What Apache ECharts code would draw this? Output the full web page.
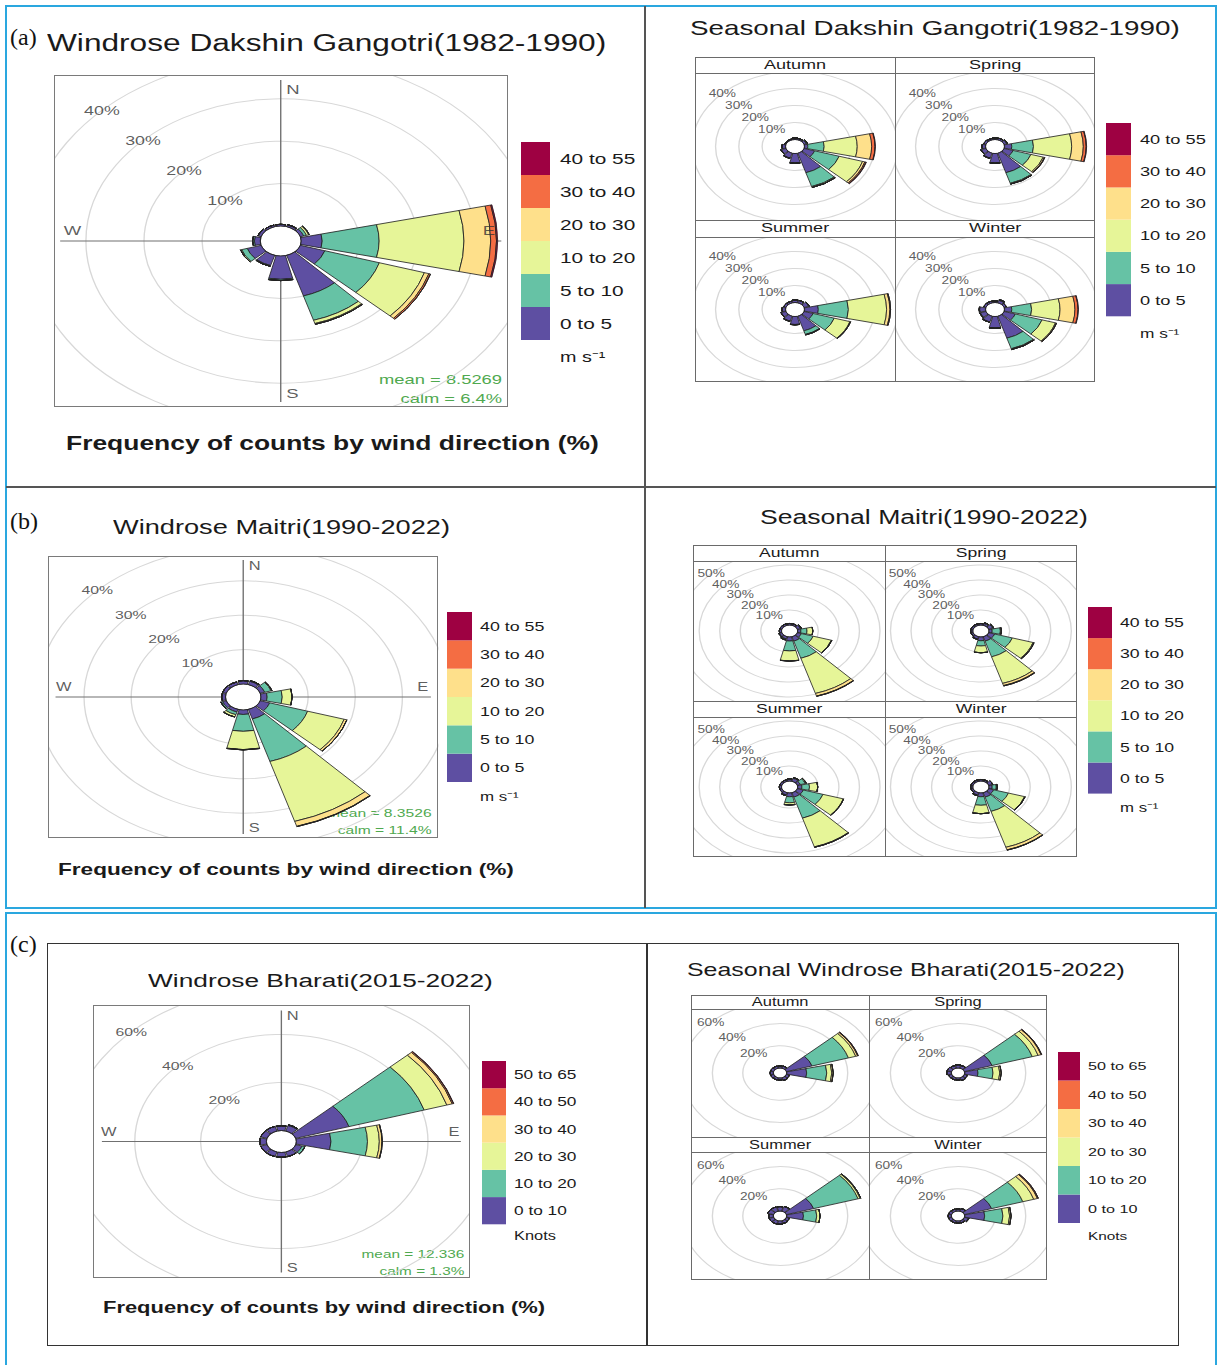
<!DOCTYPE html>
<html>
<head>
<meta charset="utf-8">
<script src="https://cdn.jsdelivr.net/npm/echarts@6/dist/echarts.min.js"></script>
<style>
  body { margin: 0; width: 1218px; height: 1365px; position: relative; overflow: hidden; background: #fff;
         font-family: 'Liberation Sans', Arial, sans-serif; color: #1a1a1a; }
  .line { position: absolute; }
</style>
</head>
<body>
<script>
// the figure in the paper is stretched sideways, so every panel is drawn narrow and widened by K
const K = 1.37;
const FONT = 'Liberation Sans';

const dirs = ['N', 'NNE', 'ENE', 'E', 'ESE', 'SSE', 'S', 'SSW', 'WSW', 'W', 'WNW', 'NNW']; // 30 deg sectors
const binColors = ['#5E4FA2', '#66C2A5', '#E6F598', '#FEE08B', '#F46D43', '#9E0142'];
const msBins = ['0 to 5', '5 to 10', '10 to 20', '20 to 30', '30 to 40', '40 to 55'];
const knotBins = ['0 to 10', '10 to 20', '20 to 30', '30 to 40', '40 to 50', '50 to 65'];

// % of counts per sector, one row per speed bin (slowest first)
const dgAll = [
  [0.4, 0.4, 0.6, 3.6, 4.4, 10.0, 5.5, 2.5, 2.5, 1.0, 0.5, 0.4],
  [0, 0.1, 0.5, 9.8, 9.8, 6.0, 0.3, 0.2, 1.0, 0.3, 0.1, 0],
  [0, 0, 0.4, 14.6, 8.1, 0.8, 0, 0, 0.2, 0, 0, 0],
  [0, 0, 0.1, 4.6, 0.8, 0.2, 0, 0, 0, 0, 0, 0],
  [0, 0, 0, 1.0, 0.3, 0, 0, 0, 0, 0, 0, 0],
  [0, 0, 0, 0.2, 0, 0, 0, 0, 0, 0, 0, 0]
];
const dgAutumn = [
  [1.0, 0.8, 1.0, 1.4, 4.7, 12.0, 5.5, 3.0, 2.0, 1.5, 0.5, 0.5],
  [0, 0, 0.5, 7.0, 11.0, 8.5, 0.3, 0.2, 0.3, 0, 0, 0],
  [0, 0, 0, 14.2, 10.5, 0.6, 0, 0, 0, 0, 0, 0],
  [0, 0, 0, 6.2, 1.0, 0, 0, 0, 0, 0, 0, 0],
  [0, 0, 0, 1.4, 0.5, 0, 0, 0, 0, 0, 0, 0],
  [0, 0, 0, 0.2, 0.2, 0, 0, 0, 0, 0, 0, 0]
];
const dgSpring = [
  [1.0, 1.0, 1.2, 3.1, 4.0, 12.0, 5.5, 3.0, 2.0, 1.5, 1.0, 0.8],
  [0, 0, 0.3, 9.3, 8.0, 6.5, 0.3, 0.2, 0.3, 0, 0, 0],
  [0, 0, 0, 16.4, 5.5, 0.5, 0, 0, 0, 0, 0, 0],
  [0, 0, 0, 5.0, 0.5, 0, 0, 0, 0, 0, 0, 0],
  [0, 0, 0, 1.2, 0.2, 0, 0, 0, 0, 0, 0, 0],
  [0, 0, 0, 0.2, 0, 0, 0, 0, 0, 0, 0, 0]
];
const dgSummer = [
  [1.5, 1.5, 2.0, 5.9, 4.0, 9.0, 4.7, 3.0, 2.0, 1.5, 1.0, 1.0],
  [0, 0, 0.3, 12.9, 9.5, 2.2, 0.2, 0.2, 0.2, 0, 0, 0],
  [0, 0, 0, 16.4, 7.0, 0.3, 0, 0, 0, 0, 0, 0],
  [0, 0, 0, 1.4, 0.3, 0, 0, 0, 0, 0, 0, 0],
  [0, 0, 0, 0.3, 0, 0, 0, 0, 0, 0, 0, 0],
  [0, 0, 0, 0, 0, 0, 0, 0, 0, 0, 0, 0]
];
const dgWinter = [
  [1.0, 1.5, 1.0, 3.1, 5.0, 13.5, 6.7, 3.5, 2.5, 2.5, 1.0, 1.0],
  [0, 0.3, 0, 8.5, 12.0, 6.5, 0.3, 0.2, 0.3, 0.2, 0, 0],
  [0, 0.2, 0, 12.2, 6.0, 0.5, 0, 0, 0, 0, 0, 0],
  [0, 0, 0, 6.4, 0.4, 0, 0, 0, 0, 0, 0, 0],
  [0, 0, 0, 1.3, 0.1, 0, 0, 0, 0, 0, 0, 0],
  [0, 0, 0, 0.2, 0, 0, 0, 0, 0, 0, 0, 0]
];

const mtAll = [
  [1.0, 1.0, 1.0, 1.3, 2.1, 2.9, 1.3, 0.8, 0.8, 0.8, 0.8, 0.8],
  [0, 0.2, 1.4, 3.2, 8.4, 12.9, 4.9, 0.8, 0.3, 0, 0, 0],
  [0, 0, 0.2, 2.1, 8.1, 18.2, 5.3, 0.7, 0.1, 0, 0, 0],
  [0, 0, 0, 0, 0.6, 1.5, 0.1, 0, 0, 0, 0, 0],
  [0, 0, 0, 0, 0, 0.1, 0, 0, 0, 0, 0, 0],
  [0, 0, 0, 0, 0, 0, 0, 0, 0, 0, 0, 0]
];
const mtAutumn = [
  [1.0, 1.0, 1.5, 1.5, 2.0, 3.0, 2.7, 1.5, 1.2, 1.0, 1.0, 1.0],
  [0, 0, 0.5, 3.0, 6.0, 12.0, 6.6, 0.5, 0.3, 0, 0, 0],
  [0, 0, 0, 2.8, 9.2, 24.5, 6.7, 0.3, 0, 0, 0, 0],
  [0, 0, 0, 0, 0.3, 1.8, 0.1, 0, 0, 0, 0, 0],
  [0, 0, 0, 0, 0, 0.2, 0, 0, 0, 0, 0, 0],
  [0, 0, 0, 0, 0, 0, 0, 0, 0, 0, 0, 0]
];
const mtSpring = [
  [1.0, 1.2, 2.0, 1.5, 3.0, 3.0, 2.5, 1.5, 1.0, 1.0, 1.0, 1.0],
  [0, 0.5, 0.5, 4.0, 9.0, 11.0, 3.5, 0.3, 0, 0, 0, 0],
  [0, 0, 0, 0.5, 10.5, 18.5, 4.5, 0, 0, 0, 0, 0],
  [0, 0, 0, 0, 0.5, 1.5, 0, 0, 0, 0, 0, 0],
  [0, 0, 0, 0, 0, 0.3, 0, 0, 0, 0, 0, 0],
  [0, 0, 0, 0, 0, 0, 0, 0, 0, 0, 0, 0]
];
const mtSummer = [
  [1.5, 2.0, 1.5, 2.0, 3.0, 3.0, 2.5, 1.5, 1.0, 1.0, 1.0, 1.0],
  [0, 0.5, 2.5, 3.7, 10.0, 14.7, 4.0, 0.5, 0, 0, 0, 0],
  [0, 0, 0.5, 4.0, 10.3, 20.0, 1.5, 0, 0, 0, 0, 0],
  [0, 0, 0, 0, 0.2, 0.3, 0, 0, 0, 0, 0, 0],
  [0, 0, 0, 0, 0, 0, 0, 0, 0, 0, 0, 0],
  [0, 0, 0, 0, 0, 0, 0, 0, 0, 0, 0, 0]
];
const mtWinter = [
  [1.0, 1.0, 2.0, 1.5, 2.5, 3.0, 2.5, 1.5, 1.0, 1.0, 1.0, 1.0],
  [0, 0, 0, 2.0, 7.5, 10.0, 5.7, 0.5, 0, 0, 0, 0],
  [0, 0, 0, 0.5, 8.2, 25.0, 5.6, 0, 0, 0, 0, 0],
  [0, 0, 0, 0, 0.3, 1.8, 0, 0, 0, 0, 0, 0],
  [0, 0, 0, 0, 0, 0.2, 0, 0, 0, 0, 0, 0],
  [0, 0, 0, 0, 0, 0, 0, 0, 0, 0, 0, 0]
];

const bhAll = [
  [2.0, 2.4, 16.9, 10.5, 2.0, 2.0, 2.0, 2.0, 2.0, 2.0, 2.0, 2.0],
  [0, 0.3, 23.9, 11.1, 0.9, 0, 0, 0, 0, 0, 0, 0],
  [0, 0, 7.2, 3.6, 0, 0, 0, 0, 0, 0, 0, 0],
  [0, 0, 1.7, 0.8, 0, 0, 0, 0, 0, 0, 0, 0],
  [0, 0, 0.4, 0.1, 0, 0, 0, 0, 0, 0, 0, 0],
  [0, 0, 0.1, 0, 0, 0, 0, 0, 0, 0, 0, 0]
];
const bhAutumn = [
  [2.0, 2.0, 17.5, 13.0, 2.0, 2.5, 2.0, 2.0, 2.0, 2.0, 2.0, 2.0],
  [0, 0, 25.0, 13.2, 0, 0, 0, 0, 0, 0, 0, 0],
  [0, 0, 5.0, 3.3, 0, 0, 0, 0, 0, 0, 0, 0],
  [0, 0, 1.3, 1.0, 0, 0, 0, 0, 0, 0, 0, 0],
  [0, 0, 0.4, 0, 0, 0, 0, 0, 0, 0, 0, 0],
  [0, 0, 0.1, 0, 0, 0, 0, 0, 0, 0, 0, 0]
];
const bhSpring = [
  [3.0, 2.5, 18.9, 8.6, 2.0, 2.5, 2.0, 2.0, 2.0, 3.0, 3.0, 2.5],
  [0, 0, 27.6, 9.9, 0, 0, 0, 0, 0, 0, 0, 0],
  [0, 0, 4.0, 4.4, 0, 0, 0, 0, 0, 0, 0, 0],
  [0, 0, 2.0, 1.0, 0, 0, 0, 0, 0, 0, 0, 0],
  [0, 0, 0.4, 0, 0, 0, 0, 0, 0, 0, 0, 0],
  [0, 0, 0.1, 0, 0, 0, 0, 0, 0, 0, 0, 0]
];
const bhSummer = [
  [4.0, 4.5, 18.6, 10.9, 2.0, 2.5, 3.0, 3.0, 3.0, 3.0, 4.0, 4.0],
  [0, 0, 30.5, 8.7, 0, 0, 0, 0, 0, 0, 0, 0],
  [0, 0, 1.4, 2.2, 0, 0, 0, 0, 0, 0, 0, 0],
  [0, 0, 0.5, 0, 0, 0, 0, 0, 0, 0, 0, 0],
  [0, 0, 0, 0, 0, 0, 0, 0, 0, 0, 0, 0],
  [0, 0, 0, 0, 0, 0, 0, 0, 0, 0, 0, 0]
];
const bhWinter = [
  [2.0, 2.5, 18.6, 13.0, 2.5, 2.0, 2.0, 2.0, 2.0, 2.0, 2.0, 2.0],
  [0, 0, 21.4, 12.0, 0.5, 0, 0, 0, 0, 0, 0, 0],
  [0, 0, 7.5, 4.4, 0, 0, 0, 0, 0, 0, 0, 0],
  [0, 0, 2.5, 1.0, 0, 0, 0, 0, 0, 0, 0, 0],
  [0, 0, 0.6, 0, 0, 0, 0, 0, 0, 0, 0, 0],
  [0, 0, 0.1, 0, 0, 0, 0, 0, 0, 0, 0, 0]
];

const seasons = ['Autumn', 'Spring', 'Summer', 'Winter'];

// ---------- helpers ----------
function sdiv(x, y, w, h) {
  const d = document.createElement('div');
  d.style.cssText = `position:absolute;left:${x}px;top:${y}px;width:${w / K}px;height:${h}px;` +
    `transform-origin:0 0;transform:scaleX(${K});`;
  document.body.appendChild(d);
  return d;
}

function label(str, x, y, size, opts) {
  opts = opts || {};
  const w = opts.width || 1400;
  const d = sdiv(x, y - size, w, size * 2);
  d.style.fontSize = size + 'px';
  d.style.lineHeight = (size * 2) + 'px';
  d.style.whiteSpace = 'nowrap';
  d.style.fontWeight = opts.bold ? 'bold' : 'normal';
  d.style.textAlign = opts.align || 'left';
  d.textContent = str;
  return d;
}

function plain(x, y, w, h, css) {
  const d = document.createElement('div');
  d.className = 'line';
  d.style.cssText += `left:${x}px;top:${y}px;width:${w}px;height:${h}px;box-sizing:border-box;` + css;
  document.body.appendChild(d);
  return d;
}

function rose(frame, rows, sc) {
  const [x0, y0, x1, y1] = frame;
  const el = sdiv(x0, y0, x1 - x0, y1 - y0);
  el.style.overflow = 'hidden';
  const chart = echarts.init(el, null, { renderer: 'svg' });
  const center = [el.clientWidth / 2, el.clientHeight / 2];
  const top = sc.rings[sc.rings.length - 1];
  const outer = sc.off + sc.s * top;
  const bare = { axisLine: { show: false }, axisTick: { show: false }, axisLabel: { show: false } };

  const polar = [
    { center: center, radius: [sc.off, outer] },   // bars + rings
    { center: center, radius: [sc.off, outer] }    // ring labels
  ];
  const angleAxis = [
    Object.assign({ polarIndex: 0, type: 'category', data: dirs, startAngle: 105, clockwise: true,
                    splitLine: { show: false } }, bare),
    Object.assign({ polarIndex: 1, type: 'value', min: 0, max: 360, startAngle: 90, clockwise: true,
                    splitLine: { show: false } }, bare)
  ];
  const radiusAxis = [
    Object.assign({ polarIndex: 0, type: 'value', min: 0, max: top, interval: sc.rings[0],
                    splitLine: { show: true, lineStyle: { color: ['#222'].concat(sc.rings.map(() => '#d8d8d8')), width: 1 } } }, bare),
    Object.assign({ polarIndex: 1, type: 'value', min: 0, max: top, splitLine: { show: false } }, bare)
  ];

  const series = rows.map((vals, i) => ({
    type: 'bar', coordinateSystem: 'polar', polarIndex: 0, stack: 'freq',
    data: vals, barCategoryGap: '12%', silent: true,
    itemStyle: { color: binColors[i], borderColor: '#222', borderWidth: 0.7 }
  }));
  // ring labels along the north-west diagonal
  series.push({
    type: 'scatter', coordinateSystem: 'polar', polarIndex: 1, symbolSize: 0, silent: true,
    data: sc.rings.map(r => [r, 315]),
    label: { show: true, position: 'inside', formatter: p => p.value[0] + '%',
             fontSize: sc.labelFont, color: '#333', fontFamily: FONT }
  });

  if (sc.compass) {
    // third polar: compass cross and N/E/S/W, reaching nearly to the frame
    const ext = (sc.reach - sc.off) / sc.s;
    const r = (sc.compass - sc.off) / sc.s;
    polar.push({ center: center, radius: [sc.off, sc.reach] });
    angleAxis.push(Object.assign({ polarIndex: 2, type: 'value', min: 0, max: 360, interval: 90, startAngle: 90,
                                   clockwise: true, splitLine: { show: true, lineStyle: { color: '#707070', width: 1 } } }, bare));
    radiusAxis.push(Object.assign({ polarIndex: 2, type: 'value', min: 0, max: ext, splitLine: { show: false } }, bare));
    series.push({
      type: 'scatter', coordinateSystem: 'polar', polarIndex: 2, symbolSize: 0, silent: true,
      data: [
        { name: 'N', value: [r, 0], label: { position: 'right' } },
        { name: 'E', value: [r, 90], label: { position: 'top' } },
        { name: 'S', value: [r, 180], label: { position: 'right' } },
        { name: 'W', value: [r, 270], label: { position: 'top' } }
      ],
      label: { show: true, formatter: '{b}', distance: 4, fontSize: sc.compassFont, color: '#333', fontFamily: FONT }
    });
  }

  chart.setOption({
    animation: false,
    polar: polar,
    angleAxis: angleAxis,
    radiusAxis: radiusAxis,
    graphic: (sc.stats || []).map((t, i) => ({
      type: 'text', right: sc.statsRight, bottom: sc.statsBottom[i],
      style: { text: t, fill: '#4fa94f', fontSize: sc.statsFont, fontFamily: FONT }
    })),
    series: series
  });
}

function legend(x, top, bottom, barW, bins, unit, textX, size, unitY) {
  const el = sdiv(x, top - 4, 170, unitY - top + 20);
  const chart = echarts.init(el, null, { renderer: 'svg' });
  const seg = (bottom - top) / bins.length;
  const g = [];
  bins.forEach((b, i) => {
    const k = bins.length - 1 - i;
    g.push({ type: 'rect', shape: { x: 0, y: 4 + k * seg, width: barW / K, height: seg }, style: { fill: binColors[i] } });
    g.push({ type: 'text', x: (textX - x) / K, y: 4 + k * seg + seg / 2,
             style: { text: b, fill: '#1a1a1a', fontSize: size, fontFamily: FONT,
                      textVerticalAlign: 'middle', verticalAlign: 'middle' } });
  });
  g.push({ type: 'text', x: (textX - x) / K, y: 4 + unitY - top,
           style: { text: unit, fill: '#1a1a1a', fontSize: size * 0.95, fontFamily: FONT,
                    textVerticalAlign: 'middle', verticalAlign: 'middle' } });
  chart.setOption({ animation: false, graphic: g });
}

function seasonal(xs, ys, sets, sc, stripFont) {
  sets.forEach((rows, i) => {
    const c = i % 2, r = Math.floor(i / 2);
    rose([xs[c], ys[2 * r + 1], xs[c + 1], ys[2 * r + 2]], rows, sc);
    label(seasons[i], xs[c], (ys[2 * r] + ys[2 * r + 1]) / 2, stripFont,
          { width: xs[c + 1] - xs[c], align: 'center' });
  });
  const css = 'background:#6a6a6a;';
  plain(xs[0], ys[0], xs[2] - xs[0], ys[4] - ys[0], 'border:1px solid #6a6a6a;');
  plain(xs[1], ys[0], 1, ys[4] - ys[0], css);
  [ys[1], ys[2], ys[3]].forEach(y => plain(xs[0], y, xs[2] - xs[0], 1, css));
}

// ---------- page frame ----------
plain(5, 5, 1212, 904, 'border:2px solid #2aa7df;');
plain(5, 912, 1212, 470, 'border:2px solid #2aa7df;');
plain(644, 6, 2, 902, 'background:#555;');
plain(6, 486, 1210, 2, 'background:#555;');
plain(47, 943, 1132, 403, 'border:1.5px solid #333;');
plain(646, 943, 1.5, 403, 'background:#333;');

[['(a)', 37], ['(b)', 521], ['(c)', 944]].forEach(([t, y]) => {
  const d = plain(10, y - 16, 40, 32, 'font:24px "Liberation Serif", serif;line-height:32px;color:#111;');
  d.textContent = t;
});

// ---------- Dakshin Gangotri ----------
label('Windrose Dakshin Gangotri(1982-1990)', 47, 43, 23.1);
rose([54, 75, 508, 407], dgAll, {
  off: 15, s: 4.24, rings: [10, 20, 30, 40], reach: 161, compass: 152, labelFont: 13, compassFont: 13.5,
  stats: ['mean = 8.5269', 'calm = 6.4%'], statsFont: 13.4, statsRight: 4, statsBottom: [22, 3]
});
plain(54, 75, 454, 332, 'border:1px solid #7a7a7a;');
legend(521, 142, 340, 29, msBins, 'm s\u207B\u00B9', 560, 15.2, 357);
label('Frequency of counts by wind direction (%)', 66, 444, 19.3, { bold: true });

label('Seasonal Dakshin Gangotri(1982-1990)', 690, 28, 20.3);
seasonal([694.5, 894.6, 1095], [56.7, 72.7, 220, 236.7, 381.7],
  [dgAutumn, dgSpring, dgSummer, dgWinter],
  { off: 7, s: 1.7, rings: [10, 20, 30, 40], labelFont: 10 }, 13.2);
legend(1106, 122.7, 316, 25, msBins, 'm s\u207B\u00B9', 1140, 13.3, 333);

// ---------- Maitri ----------
label('Windrose Maitri(1990-2022)', 113, 528, 19.85);
rose([48, 556, 438, 838], mtAll, {
  off: 13, s: 3.44, rings: [10, 20, 30, 40], reach: 137, compass: 131, labelFont: 11.5, compassFont: 12,
  stats: ['mean = 8.3526', 'calm = 11.4%'], statsFont: 11.4, statsRight: 5, statsBottom: [19, 2]
});
plain(48, 556, 390, 282, 'border:1px solid #7a7a7a;');
legend(447, 611.7, 781.7, 25, msBins, 'm s\u207B\u00B9', 480, 13, 797);
label('Frequency of counts by wind direction (%)', 58, 869, 16.5, { bold: true });

label('Seasonal Maitri(1990-2022)', 760, 517, 19.4);
seasonal([692.5, 885, 1077.3], [545, 560.7, 700.7, 716.7, 856.7],
  [mtAutumn, mtSpring, mtSummer, mtWinter],
  { off: 6, s: 1.5, rings: [10, 20, 30, 40, 50], labelFont: 10 }, 12.8);
legend(1088, 606.7, 793.3, 24, msBins, 'm s\u207B\u00B9', 1120, 12.9, 808);

// ---------- Bharati ----------
label('Windrose Bharati(2015-2022)', 148, 981, 19.2);
rose([93, 1005, 470, 1278], bhAll, {
  off: 11, s: 2.4, rings: [20, 40, 60], reach: 131, compass: 126, labelFont: 11.5, compassFont: 12,
  stats: ['mean = 12.336', 'calm = 1.3%'], statsFont: 11.2, statsRight: 4, statsBottom: [18, 1]
});
plain(93, 1005, 377, 273, 'border:1px solid #7a7a7a;');
legend(482, 1060.7, 1224, 24, knotBins, 'Knots', 514, 12.6, 1236);
label('Frequency of counts by wind direction (%)', 103, 1308, 16.0, { bold: true });

label('Seasonal Windrose Bharati(2015-2022)', 687, 970, 18.2);
seasonal([690.7, 869, 1047], [995, 1009.3, 1137.3, 1152, 1280],
  [bhAutumn, bhSpring, bhSummer, bhWinter],
  { off: 5, s: 1.11, rings: [20, 40, 60], labelFont: 10 }, 12);
legend(1058, 1051.7, 1222.7, 22, knotBins, 'Knots', 1088, 11.8, 1236);
</script>
</body>
</html>
